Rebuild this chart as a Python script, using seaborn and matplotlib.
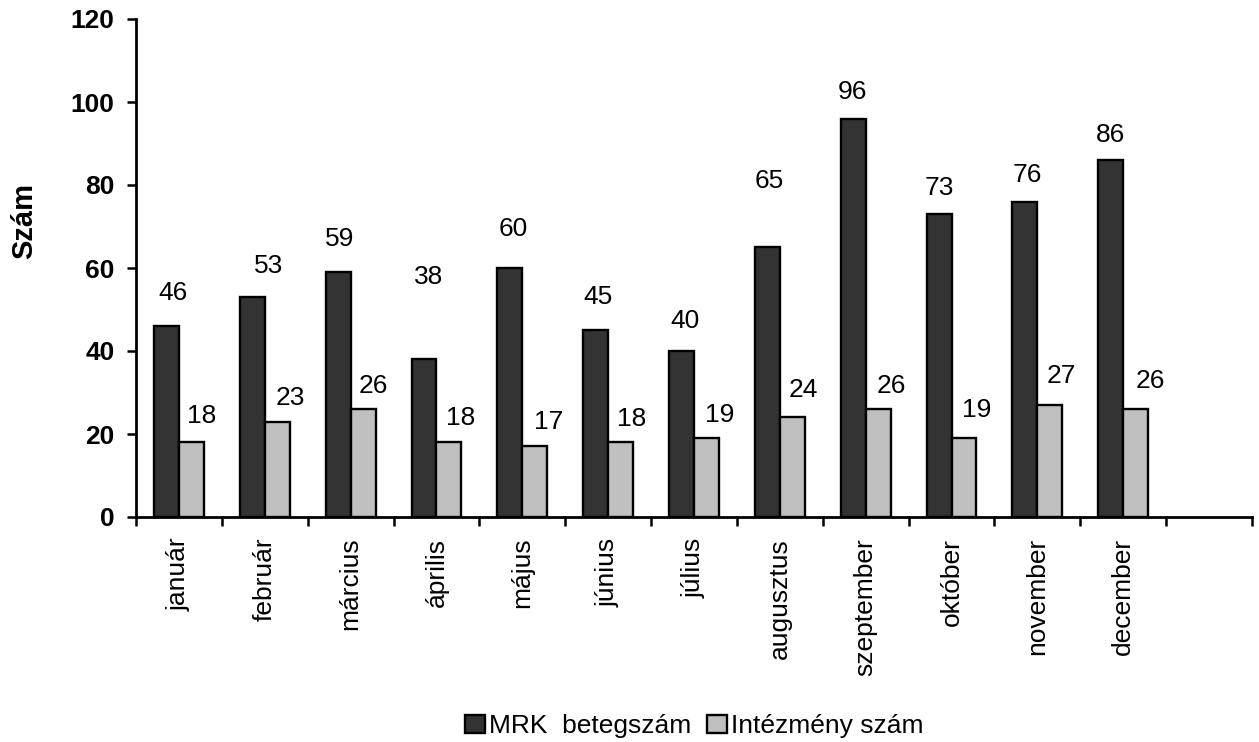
import matplotlib
matplotlib.use("Agg")
import matplotlib.pyplot as plt
import seaborn as sns
import pandas as pd

# Monthly figures
months = ["január", "február", "március", "április", "május", "június",
          "július", "augusztus", "szeptember", "október", "november", "december"]
series_names = ["MRK  betegszám", "Intézmény szám"]
mrk_patients = [46, 53, 59, 38, 60, 45, 40, 65, 96, 73, 76, 86]
institutions = [18, 23, 26, 18, 17, 18, 19, 24, 26, 19, 27, 26]

# Value-label nudges (pixels, right / up from the top of each bar to the text centre)
mrk_label_dx = [6.5, 16.6, 1.8, 4.9, 3, 2, 3.4, 1.5, -1, 0, 2, 0]
mrk_label_dy = [36, 34, 36, 85, 41, 36, 33, 69, 29, 29, 29, 28]
inst_label_dx = [10.6, 12.7, 9.9, 12, 14.2, 11.3, 13.5, 10.6, 12.8, 12.9, 11.1, 14.2]
inst_label_dy = [29, 26.5, 26, 27, 26.5, 26, 26, 30, 26, 31, 31, 31]

colors = {series_names[0]: "#333333", series_names[1]: "#C0C0C0"}

df = pd.DataFrame({
    "month": months * 2,
    "series": [series_names[0]] * len(months) + [series_names[1]] * len(months),
    "value": mrk_patients + institutions,
})

sns.set_style("white")
plt.rcParams["font.family"] = ["Liberation Sans", "DejaVu Sans"]
plt.rcParams.update({
    "text.color": "black",
    "axes.labelcolor": "black",
    "xtick.color": "black",
    "ytick.color": "black",
})

W, H = 1259, 742
fig = plt.figure(figsize=(W / 100, H / 100), dpi=100)
ax = fig.add_axes([136 / W, (H - 517) / H, 1116 / W, 498 / H])

sns.barplot(data=df, x="month", y="value", hue="series", order=months,
            hue_order=series_names, palette=colors, saturation=1,
            width=0.58, edgecolor="black", linewidth=1.7, ax=ax)

handles, labels = ax.get_legend_handles_labels()
if ax.get_legend() is not None:
    ax.get_legend().remove()

# Axes: 13 category slots, the last one left empty
ax.set_xlim(-0.5, 12.5)
ax.set_ylim(0, 120)
ax.set_yticks(range(0, 121, 20))
ax.set_yticklabels([str(v) for v in range(0, 121, 20)], fontsize=19, fontweight="bold")

ax.set_xticks([i - 0.5 for i in range(14)])
ax.set_xticklabels([])
ax.set_xticks(range(len(months)), minor=True)
ax.set_xticklabels(months, minor=True, rotation=90, fontsize=19)
ax.tick_params(axis="x", which="major", direction="out", length=6.5, width=1.8,
               bottom=True, colors="black")
ax.tick_params(axis="x", which="minor", length=0, pad=15, labelcolor="black")
ax.tick_params(axis="y", direction="out", length=6.5, width=1.8, left=True, pad=9,
               colors="black")

ax.set_xlabel("")
ax.set_ylabel("Szám", fontsize=21, fontweight="bold", color="black")
ax.yaxis.set_label_coords(-0.088, 0.594)

for side in ["top", "right"]:
    ax.spines[side].set_visible(False)
for side in ["left", "bottom"]:
    ax.spines[side].set_linewidth(2.0)
    ax.spines[side].set_color("black")

# Value labels above each bar
cap_half = 9.5
for cont, vals, dxs, dys in [(ax.containers[0], mrk_patients, mrk_label_dx, mrk_label_dy),
                             (ax.containers[1], institutions, inst_label_dx, inst_label_dy)]:
    for patch, v, dx, dy in zip(cont.patches, vals, dxs, dys):
        xc = patch.get_x() + patch.get_width() / 2
        ax.annotate(str(v), xy=(xc, v), xytext=(dx, dy - cap_half),
                    textcoords="offset pixels", ha="center", va="baseline",
                    fontsize=19, color="black")

fig.legend(handles, labels, loc="center", bbox_to_anchor=(694 / W, 1 - 726 / H),
           ncol=2, frameon=False, fontsize=19, handlelength=0.75, handleheight=0.7,
           handletextpad=0.15, columnspacing=0.6, borderpad=0, labelcolor="black")

fig.savefig("out.png", dpi=100)
